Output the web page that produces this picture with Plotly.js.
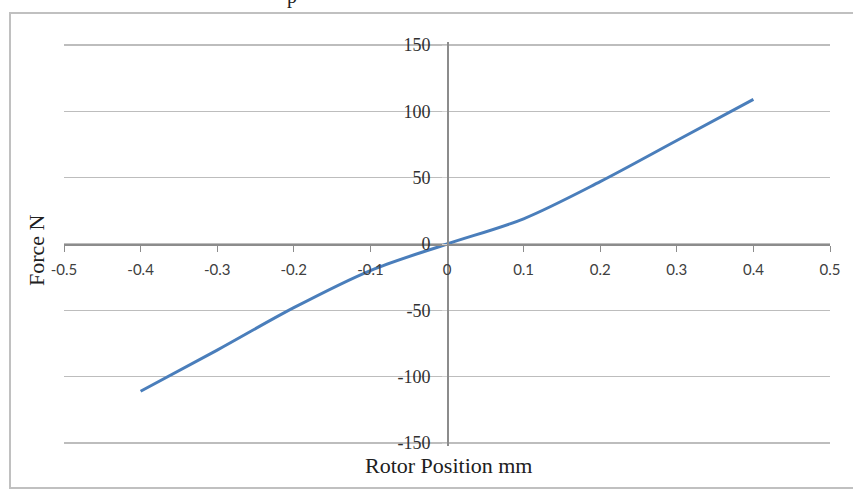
<!DOCTYPE html>
<html>
<head>
<meta charset="utf-8">
<script src="https://cdn.plot.ly/plotly-3.0.1.min.js"></script>
<style>html,body{margin:0;padding:0;background:#fff;}#chart{width:853px;height:490px;}</style>
</head>
<body>
<div id="chart"></div>
<script>
const rotorPosition = [-0.4, -0.3, -0.2, -0.1, 0, 0.1, 0.2, 0.3, 0.4];
const forceN = [-111, -80, -48, -20, 0, 19, 47, 78, 109];
const xTicks = [-0.5, -0.4, -0.3, -0.2, -0.1, 0, 0.1, 0.2, 0.3, 0.4, 0.5];
const yTicks = [-150, -100, -50, 0, 50, 100, 150];
const xTitle = 'Rotor Position mm';
const yTitle = 'Force N';

const trace = {
  x: rotorPosition, y: forceN, type: 'scatter', mode: 'lines',
  line: {color: '#4a7ebb', width: 3, shape: 'spline', smoothing: 0.9},
  hoverinfo: 'x+y'
};

const layout = {
  width: 853, height: 490,
  margin: {l: 64, r: 23, t: 42, b: 44},
  paper_bgcolor: '#ffffff', plot_bgcolor: '#ffffff',
  showlegend: false,
  xaxis: {
    range: [-0.5, 0.5], tickvals: xTicks, ticktext: xTicks.map(String),
    anchor: 'free', position: 0.5, side: 'bottom',
    showgrid: false, zeroline: false,
    showline: true, linecolor: '#8c8c8c', linewidth: 1.5,
    ticks: 'outside', ticklen: 6, tickcolor: '#8c8c8c', tickwidth: 1,
    ticklabelstandoff: 5,
    tickfont: {family: 'Lato, "Open Sans", sans-serif', size: 15, color: '#404040'}
  },
  yaxis: {
    range: [-152.26, 152.26], tickvals: yTicks, ticktext: yTicks.map(String),
    anchor: 'free', position: 0.5, side: 'left',
    showgrid: true, gridcolor: '#bdbdbd', gridwidth: 1.5,
    zeroline: false,
    showline: true, linecolor: '#8c8c8c', linewidth: 1.5,
    ticks: 'outside', ticklen: 5, tickcolor: '#d0d0d0', tickwidth: 1,
    ticklabelstandoff: 8,
    tickfont: {family: '"Liberation Serif", "DejaVu Serif", serif', size: 18, color: '#303030'}
  },
  shapes: [{
    type: 'rect', xref: 'paper', yref: 'paper',
    x0: -0.0705, x1: 1.1, y0: -0.104, y1: 1.0718,
    line: {color: '#c0c0c0', width: 2}, fillcolor: 'rgba(0,0,0,0)', layer: 'below'
  }],
  annotations: [
    {text: xTitle, xref: 'paper', yref: 'paper', x: 0.5026, y: -0.048,
     xanchor: 'center', yanchor: 'middle', showarrow: false,
     font: {family: '"Liberation Serif", serif', size: 22, color: '#202020'}},
    {text: yTitle, xref: 'paper', yref: 'paper', x: -0.0366, y: 0.485,
     xanchor: 'center', yanchor: 'middle', textangle: -90, showarrow: false,
     font: {family: '"Liberation Serif", serif', size: 22, color: '#202020'}},
    {text: 'p', xref: 'paper', yref: 'paper', x: 0.2977, y: 1.113,
     xanchor: 'center', yanchor: 'middle', showarrow: false,
     font: {family: '"Liberation Serif", serif', size: 20, color: '#202020'}}
  ]
};

Plotly.newPlot('chart', [trace], layout, {displayModeBar: false, staticPlot: true});
</script>
</body>
</html>
